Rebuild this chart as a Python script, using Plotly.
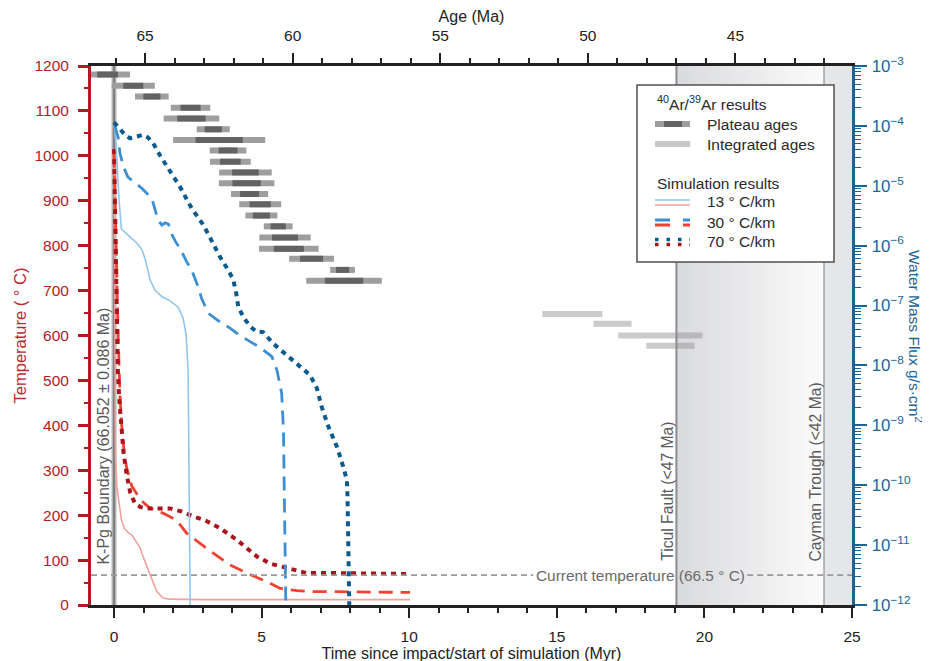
import plotly.graph_objects as go

# ---------------- reference ages (Ma) ----------------
KPG_AGE = 66.052
TICUL_AGE = 47.0
CAYMAN_AGE = 42.0
CURRENT_TEMP = 66.5

# ---------------- 40Ar/39Ar plateau ages (Ma) ----------------
plateau_age = [66.27, 65.40, 64.77, 63.46, 63.43, 62.69, 62.49, 62.19, 62.11, 61.60,
               61.56, 61.46, 61.10, 61.06, 60.49, 60.26, 60.13, 59.36, 58.31, 58.26]
plateau_err_inner = [0.35, 0.34, 0.29, 0.34, 0.48, 0.29, 0.80, 0.32, 0.35, 0.45,
                     0.48, 0.32, 0.36, 0.29, 0.26, 0.44, 0.51, 0.39, 0.22, 0.65]
plateau_err_outer = [0.76, 0.73, 0.57, 0.67, 0.94, 0.56, 1.56, 0.62, 0.69, 0.89,
                     0.94, 0.63, 0.71, 0.54, 0.49, 0.87, 1.01, 0.76, 0.42, 1.28]
plateau_row = [1181, 1156, 1132, 1107, 1083, 1059, 1035, 1012, 987, 963,
               939, 915, 892, 867, 843, 818, 793, 771, 746, 722]

# ---------------- integrated ages (Ma) ----------------
integrated_old = [51.54, 49.81, 48.97, 48.02]
integrated_young = [49.51, 48.52, 46.12, 46.39]
integrated_row = [648, 626, 600, 577]

# ---------------- simulated temperature (deg C) vs time (Myr) ----------------
t_temp13 = [0.0, 0.02, 0.05, 0.10, 0.17, 0.25, 0.35, 0.50, 0.60, 0.88, 0.94, 1.16, 1.28, 1.45, 1.65, 1.85, 3.0, 5.0, 7.5, 10.03]
temp13 = [1000, 560, 330, 260, 225, 190, 170, 160, 156, 128, 115, 78, 56, 30, 16, 13, 12, 12, 12, 12]

t_temp30 = [0.0, 0.04, 0.09, 0.14, 0.20, 0.26, 0.35, 0.43, 0.60, 0.88, 1.05, 1.22, 1.67, 2.12, 2.46, 3.14, 3.93, 4.6, 5.18, 5.63, 6.2, 6.76, 10.03]
temp30 = [1005, 880, 750, 600, 470, 400, 335, 305, 265, 236, 225, 216, 204, 189, 160, 126, 89, 68, 52, 37, 32, 30, 28]

t_temp70 = [0.0, 0.03, 0.06, 0.09, 0.13, 0.18, 0.25, 0.32, 0.43, 0.55, 0.71, 0.90, 1.11, 1.5, 1.9, 2.3, 2.69, 3.1, 3.59, 4.16, 4.5, 4.84, 5.3, 5.85, 6.2, 6.53, 7.5, 9.92]
temp70 = [1015, 900, 780, 620, 520, 456, 400, 340, 290, 250, 226, 218, 215, 215, 215, 208, 197, 188, 171, 145, 125, 108, 92, 82, 76, 71, 71, 69]

# ---------------- simulated water mass flux (g/s/cm2) vs time (Myr) ----------------
t_flux13 = [0.0, 0.03, 0.10, 0.17, 0.25, 0.37, 0.54, 0.78, 0.95, 1.08, 1.22, 1.39, 1.63, 1.90,
            2.17, 2.34, 2.44, 2.51, 2.54, 2.56, 2.58]
flux13 = [1.0e-4, 8.5e-5, 2.7e-5, 5.8e-6, 1.9e-6, 1.7e-6, 1.4e-6, 1.1e-6, 8.5e-7, 5.4e-7, 2.7e-7,
          1.8e-7, 1.4e-7, 1.2e-7, 9.4e-8, 6.2e-8, 3.3e-8, 8.3e-9, 3.9e-10, 2.6e-11, 1.0e-12]

t_flux30 = [0.03, 0.14, 0.20, 0.32, 0.47, 0.65, 0.94, 1.28, 1.39, 1.49, 1.62, 1.73, 1.84, 1.97, 2.07,
            2.24, 2.46, 2.63, 2.86, 2.97, 3.20, 3.48, 3.93, 4.21, 4.61, 4.95, 5.35, 5.52, 5.68,
            5.74, 5.77, 5.80, 5.82]
flux30 = [1.0e-4, 6.4e-5, 3.5e-5, 2.1e-5, 1.4e-5, 1.2e-5, 9.1e-6, 6.2e-6, 3.9e-6, 2.7e-6, 2.2e-6,
          2.4e-6, 2.3e-6, 1.5e-6, 1.2e-6, 8.9e-7, 5.4e-7, 3.9e-7, 2.0e-7, 1.3e-7, 7.4e-8, 5.8e-8,
          4.2e-8, 3.3e-8, 2.5e-8, 2.0e-8, 1.4e-8, 8.3e-9, 3.4e-9, 8.3e-10, 6.5e-11, 5.0e-12, 1.0e-12]

t_flux70 = [0.0, 0.10, 0.20, 0.37, 0.54, 0.77, 0.99, 1.15, 1.33, 1.56, 1.90, 2.24, 2.63, 3.03, 3.31,
            3.59, 3.87, 4.04, 4.14, 4.21, 4.38, 4.61, 4.81, 5.05, 5.40, 5.85, 6.31, 6.64, 6.87,
            7.04, 7.26, 7.55, 7.77, 7.89, 7.91, 7.92, 7.94, 7.97]
flux70 = [1.15e-4, 1.0e-4, 9.1e-5, 7.1e-5, 6.2e-5, 6.6e-5, 7.1e-5, 6.4e-5, 5.1e-5, 3.2e-5, 1.8e-5,
          9.5e-6, 4.2e-6, 2.2e-6, 1.2e-6, 6.5e-7, 3.9e-7, 2.7e-7, 1.6e-7, 9.5e-8, 6.4e-8, 4.5e-8,
          3.7e-8, 3.6e-8, 2.3e-8, 1.5e-8, 9.5e-9, 6.9e-9, 4.2e-9, 2.0e-9, 9.6e-10, 4.4e-10,
          2.0e-10, 1.2e-10, 6.5e-11, 1.8e-11, 5.0e-12, 1.0e-12]

# ---------------- styling ----------------
RED_AX = "#b31b24"
BLUE_AX = "#1a6496"
C13_BLUE, C30_BLUE, C70_BLUE = "#93c5ea", "#3b8fd2", "#0b5a8c"
C13_RED, C30_RED, C70_RED = "#f2a19c", "#ee4232", "#a8161d"
FONT = "Liberation Sans, Arial, sans-serif"

X_MIN, X_MAX = -0.78, 25.0
W, H = 930, 661
# page shows the figure with an 8px body offset; margins compensate for it
ML, MR, MT, MB = 83, 86, 58, 64
# plot box in page pixels (used only for overlay legend placement)
BOX_L, BOX_R, BOX_T, BOX_B = 91, 852, 66, 605


def px(x):
    return (x - BOX_L) / (BOX_R - BOX_L)


def py(y):
    return (BOX_B - y) / (BOX_B - BOX_T)


fig = go.Figure()

# shaded fault/trough regions (bottom-axis time coordinates)
t_ticul = KPG_AGE - TICUL_AGE
t_cayman = KPG_AGE - CAYMAN_AGE
fig.add_trace(go.Scatter(
    x=[t_ticul, t_cayman, t_cayman, t_ticul, t_ticul], y=[0, 0, 1200, 1200, 0],
    mode="none", fill="toself",
    fillgradient=dict(type="horizontal", colorscale=[[0, "#d9dadd"], [1, "#fbfbfb"]],
                      start=t_ticul, stop=t_cayman),
    hoverinfo="skip", showlegend=False))

# integrated ages (top age axis)
ix, iy = [], []
for o, yg, r in zip(integrated_old, integrated_young, integrated_row):
    ix += [o, yg, None]
    iy += [r, r, None]
fig.add_trace(go.Scatter(x=ix, y=iy, xaxis="x2", yaxis="y", mode="lines",
                         line=dict(color="rgba(140,140,143,0.45)", width=6),
                         showlegend=False, hoverinfo="skip"))

# plateau ages (outer light, inner dark)
ox, oy, nx, ny = [], [], [], []
for a, e1, e2, r in zip(plateau_age, plateau_err_inner, plateau_err_outer, plateau_row):
    ox += [a + e2, a - e2, None]
    oy += [r, r, None]
    nx += [a + e1, a - e1, None]
    ny += [r, r, None]
fig.add_trace(go.Scatter(x=ox, y=oy, xaxis="x2", yaxis="y", mode="lines",
                         line=dict(color="#9e9ea0", width=6), showlegend=False, hoverinfo="skip"))
fig.add_trace(go.Scatter(x=nx, y=ny, xaxis="x2", yaxis="y", mode="lines",
                         line=dict(color="#626263", width=6), showlegend=False, hoverinfo="skip"))

# temperature curves
fig.add_trace(go.Scatter(x=t_temp13, y=temp13, mode="lines", line=dict(color=C13_RED, width=1.6),
                         showlegend=False))
fig.add_trace(go.Scatter(x=t_temp30, y=temp30, mode="lines",
                         line=dict(color=C30_RED, width=2.8, dash="14px,8px"), showlegend=False))
fig.add_trace(go.Scatter(x=t_temp70, y=temp70, mode="lines",
                         line=dict(color=C70_RED, width=4, dash="5px,5px"), showlegend=False))

# flux curves (right log axis)
fig.add_trace(go.Scatter(x=t_flux13, y=flux13, yaxis="y2", mode="lines",
                         line=dict(color=C13_BLUE, width=1.6), showlegend=False))
fig.add_trace(go.Scatter(x=t_flux30, y=flux30, yaxis="y2", mode="lines",
                         line=dict(color=C30_BLUE, width=2.8, dash="14px,8px"), showlegend=False))
fig.add_trace(go.Scatter(x=t_flux70, y=flux70, yaxis="y2", mode="lines",
                         line=dict(color=C70_BLUE, width=4, dash="5px,5px"), showlegend=False))

shapes = []
# Cayman trough solid region
shapes.append(dict(type="rect", xref="x", yref="y", x0=t_cayman, x1=X_MAX, y0=0, y1=1200,
                   fillcolor="#e5e6e8", line=dict(width=0), layer="below"))
# K-Pg boundary band + line
shapes.append(dict(type="rect", xref="x", yref="y", x0=-0.085, x1=0.085, y0=0, y1=1200,
                   fillcolor="rgba(120,120,122,0.55)", line=dict(width=0), layer="below"))
shapes.append(dict(type="line", xref="x", yref="y", x0=0, x1=0, y0=0, y1=1200,
                   line=dict(color="#6e6e70", width=1.5), layer="below"))
# fault / trough lines
shapes.append(dict(type="line", xref="x", yref="y", x0=t_ticul, x1=t_ticul, y0=0, y1=1200,
                   line=dict(color="#8c8c90", width=2)))
shapes.append(dict(type="line", xref="x", yref="y", x0=t_cayman, x1=t_cayman, y0=0, y1=1200,
                   line=dict(color="#a3a3a7", width=1.5)))
# current temperature dashed line (broken by its label)
for a, b in [(X_MIN, 14.2), (21.45, X_MAX)]:
    shapes.append(dict(type="line", xref="x", yref="y", x0=a, x1=b, y0=CURRENT_TEMP, y1=CURRENT_TEMP,
                       line=dict(color="#9a9a9c", width=1.6, dash="6px,4px")))

# legend box
shapes.append(dict(type="rect", xref="paper", yref="paper", x0=px(637), x1=px(834), y0=py(262), y1=py(85),
                   fillcolor="white", line=dict(color="#505050", width=1.5)))
L0, L1 = 655, 690
shapes.append(dict(type="line", xref="paper", yref="paper", x0=px(L0), x1=px(L1), y0=py(124), y1=py(124),
                   line=dict(color="#9e9ea0", width=6)))
shapes.append(dict(type="line", xref="paper", yref="paper", x0=px(664), x1=px(682), y0=py(124), y1=py(124),
                   line=dict(color="#626263", width=6)))
shapes.append(dict(type="line", xref="paper", yref="paper", x0=px(L0), x1=px(L1), y0=py(144), y1=py(144),
                   line=dict(color="#c8c8ca", width=6)))
leg_specs = [
    (200, C13_BLUE, C13_RED, 1.6, None),
    (220, C30_BLUE, C30_RED, 3, "15px,13px"),
    (239.5, C70_BLUE, C70_RED, 3.5, "3.5px,8px"),
]
for yy, cb, cr, w, d in leg_specs:
    for off, c in [(0, cb), (5, cr)]:
        ln = dict(color=c, width=w)
        if d:
            ln["dash"] = d
        shapes.append(dict(type="line", xref="paper", yref="paper", x0=px(L0), x1=px(L1),
                           y0=py(yy + off), y1=py(yy + off), line=ln))

LBL = "#5a5a5c"
annotations = [
    dict(x=0, y=375, xref="x", yref="y", xshift=-10, text="K-Pg Boundary (66.052 ± 0.086 Ma)",
         textangle=-90, showarrow=False, xanchor="center", yanchor="middle",
         font=dict(family=FONT, size=16, color=LBL)),
    dict(x=t_ticul, y=253, xref="x", yref="y", xshift=-9, text="Ticul Fault (<47 Ma)",
         textangle=-90, showarrow=False, xanchor="center", yanchor="middle",
         font=dict(family=FONT, size=15.7, color=LBL)),
    dict(x=t_cayman, y=295, xref="x", yref="y", xshift=-9, text="Cayman Trough (<42 Ma)",
         textangle=-90, showarrow=False, xanchor="center", yanchor="middle",
         font=dict(family=FONT, size=15.7, color=LBL)),
    dict(x=17.83, y=CURRENT_TEMP, xref="x", yref="y", text="Current temperature (66.5 ° C)",
         showarrow=False, xanchor="center", yanchor="middle",
         font=dict(family=FONT, size=15.4, color="#6a6a6c")),
    dict(x=px(915), y=py(336), xref="paper", yref="paper", xanchor="center", yanchor="middle",
         text="Water Mass Flux g/s·cm<sup>2</sup>",
         textangle=90, showarrow=False, font=dict(family=FONT, size=15.5, color=BLUE_AX)),
]
LEGF = dict(family=FONT, size=15.5, color="#2a2a2a")
for txt, xx, yy in [
    ("<sup>40</sup>Ar/<sup>39</sup>Ar results", 655, 103),
    ("Plateau ages", 705, 124),
    ("Integrated ages", 705, 144),
    ("Simulation results", 655, 183),
    ("13 ° C/km", 705, 202),
    ("30 ° C/km", 705, 222),
    ("70 ° C/km", 705, 241),
]:
    annotations.append(dict(x=px(xx), y=py(yy), xref="paper", yref="paper", text=txt, xanchor="left",
                            yanchor="middle", showarrow=False, font=LEGF))

fig.update_layout(
    width=W, height=H, autosize=False,
    margin=dict(l=ML, r=MR, t=MT, b=MB, pad=0, autoexpand=False),
    plot_bgcolor="white", paper_bgcolor="white",
    font=dict(family=FONT, size=15, color="#222"),
    showlegend=False,
    shapes=shapes, annotations=annotations,
    xaxis=dict(range=[X_MIN, X_MAX], tick0=0, dtick=5, ticks="outside", ticklen=10, tickwidth=2,
               tickcolor="#222", showline=True, linecolor="#222", linewidth=2.5, showgrid=False,
               zeroline=False, tickfont=dict(size=15.5, color="#222"), ticklabelstandoff=6,
               automargin=False,
               minor=dict(dtick=1, ticks="outside", ticklen=5, tickwidth=1.5, tickcolor="#222"),
               title=dict(text="Time since impact/start of simulation (Myr)", standoff=2,
                          font=dict(size=16, color="#222"))),
    xaxis2=dict(overlaying="x", side="top", anchor="y",
                range=[KPG_AGE - X_MIN, KPG_AGE - X_MAX], tick0=0, dtick=5, ticks="outside",
                ticklen=10, tickwidth=2, tickcolor="#222", showline=True, linecolor="#222",
                linewidth=2.5, showgrid=False, zeroline=False, tickfont=dict(size=15.5, color="#222"),
                ticklabelstandoff=6, automargin=False,
                minor=dict(dtick=1, ticks="outside", ticklen=5, tickwidth=1.5, tickcolor="#222"),
                title=dict(text="Age (Ma)", standoff=4, font=dict(size=16, color="#222"))),
    yaxis=dict(range=[0, 1200], dtick=100, ticks="outside", ticklen=10, tickwidth=2.5,
               tickcolor=RED_AX, showline=True, linecolor=RED_AX, linewidth=3, showgrid=False,
               zeroline=False, tickfont=dict(size=15.5, color=RED_AX), ticklabelstandoff=6,
               automargin=False,
               minor=dict(dtick=50, ticks="outside", ticklen=4.5, tickwidth=2, tickcolor=RED_AX),
               title=dict(text="Temperature ( ° C)", standoff=4, font=dict(size=16.5, color="#c0282f"))),
    yaxis2=dict(type="log", overlaying="y", side="right", anchor="x", range=[-12, -3], dtick=1,
                exponentformat="power", ticks="outside", ticklen=12, tickwidth=2, tickcolor=BLUE_AX,
                showline=True, linecolor=BLUE_AX, linewidth=3, showgrid=False, zeroline=False,
                tickfont=dict(size=13.5, color=BLUE_AX), ticklabelstandoff=2, automargin=False,
                minor=dict(dtick="D1", ticks="outside", ticklen=6, tickwidth=1.3, tickcolor=BLUE_AX)),
)

fig.write_html("out.html")
